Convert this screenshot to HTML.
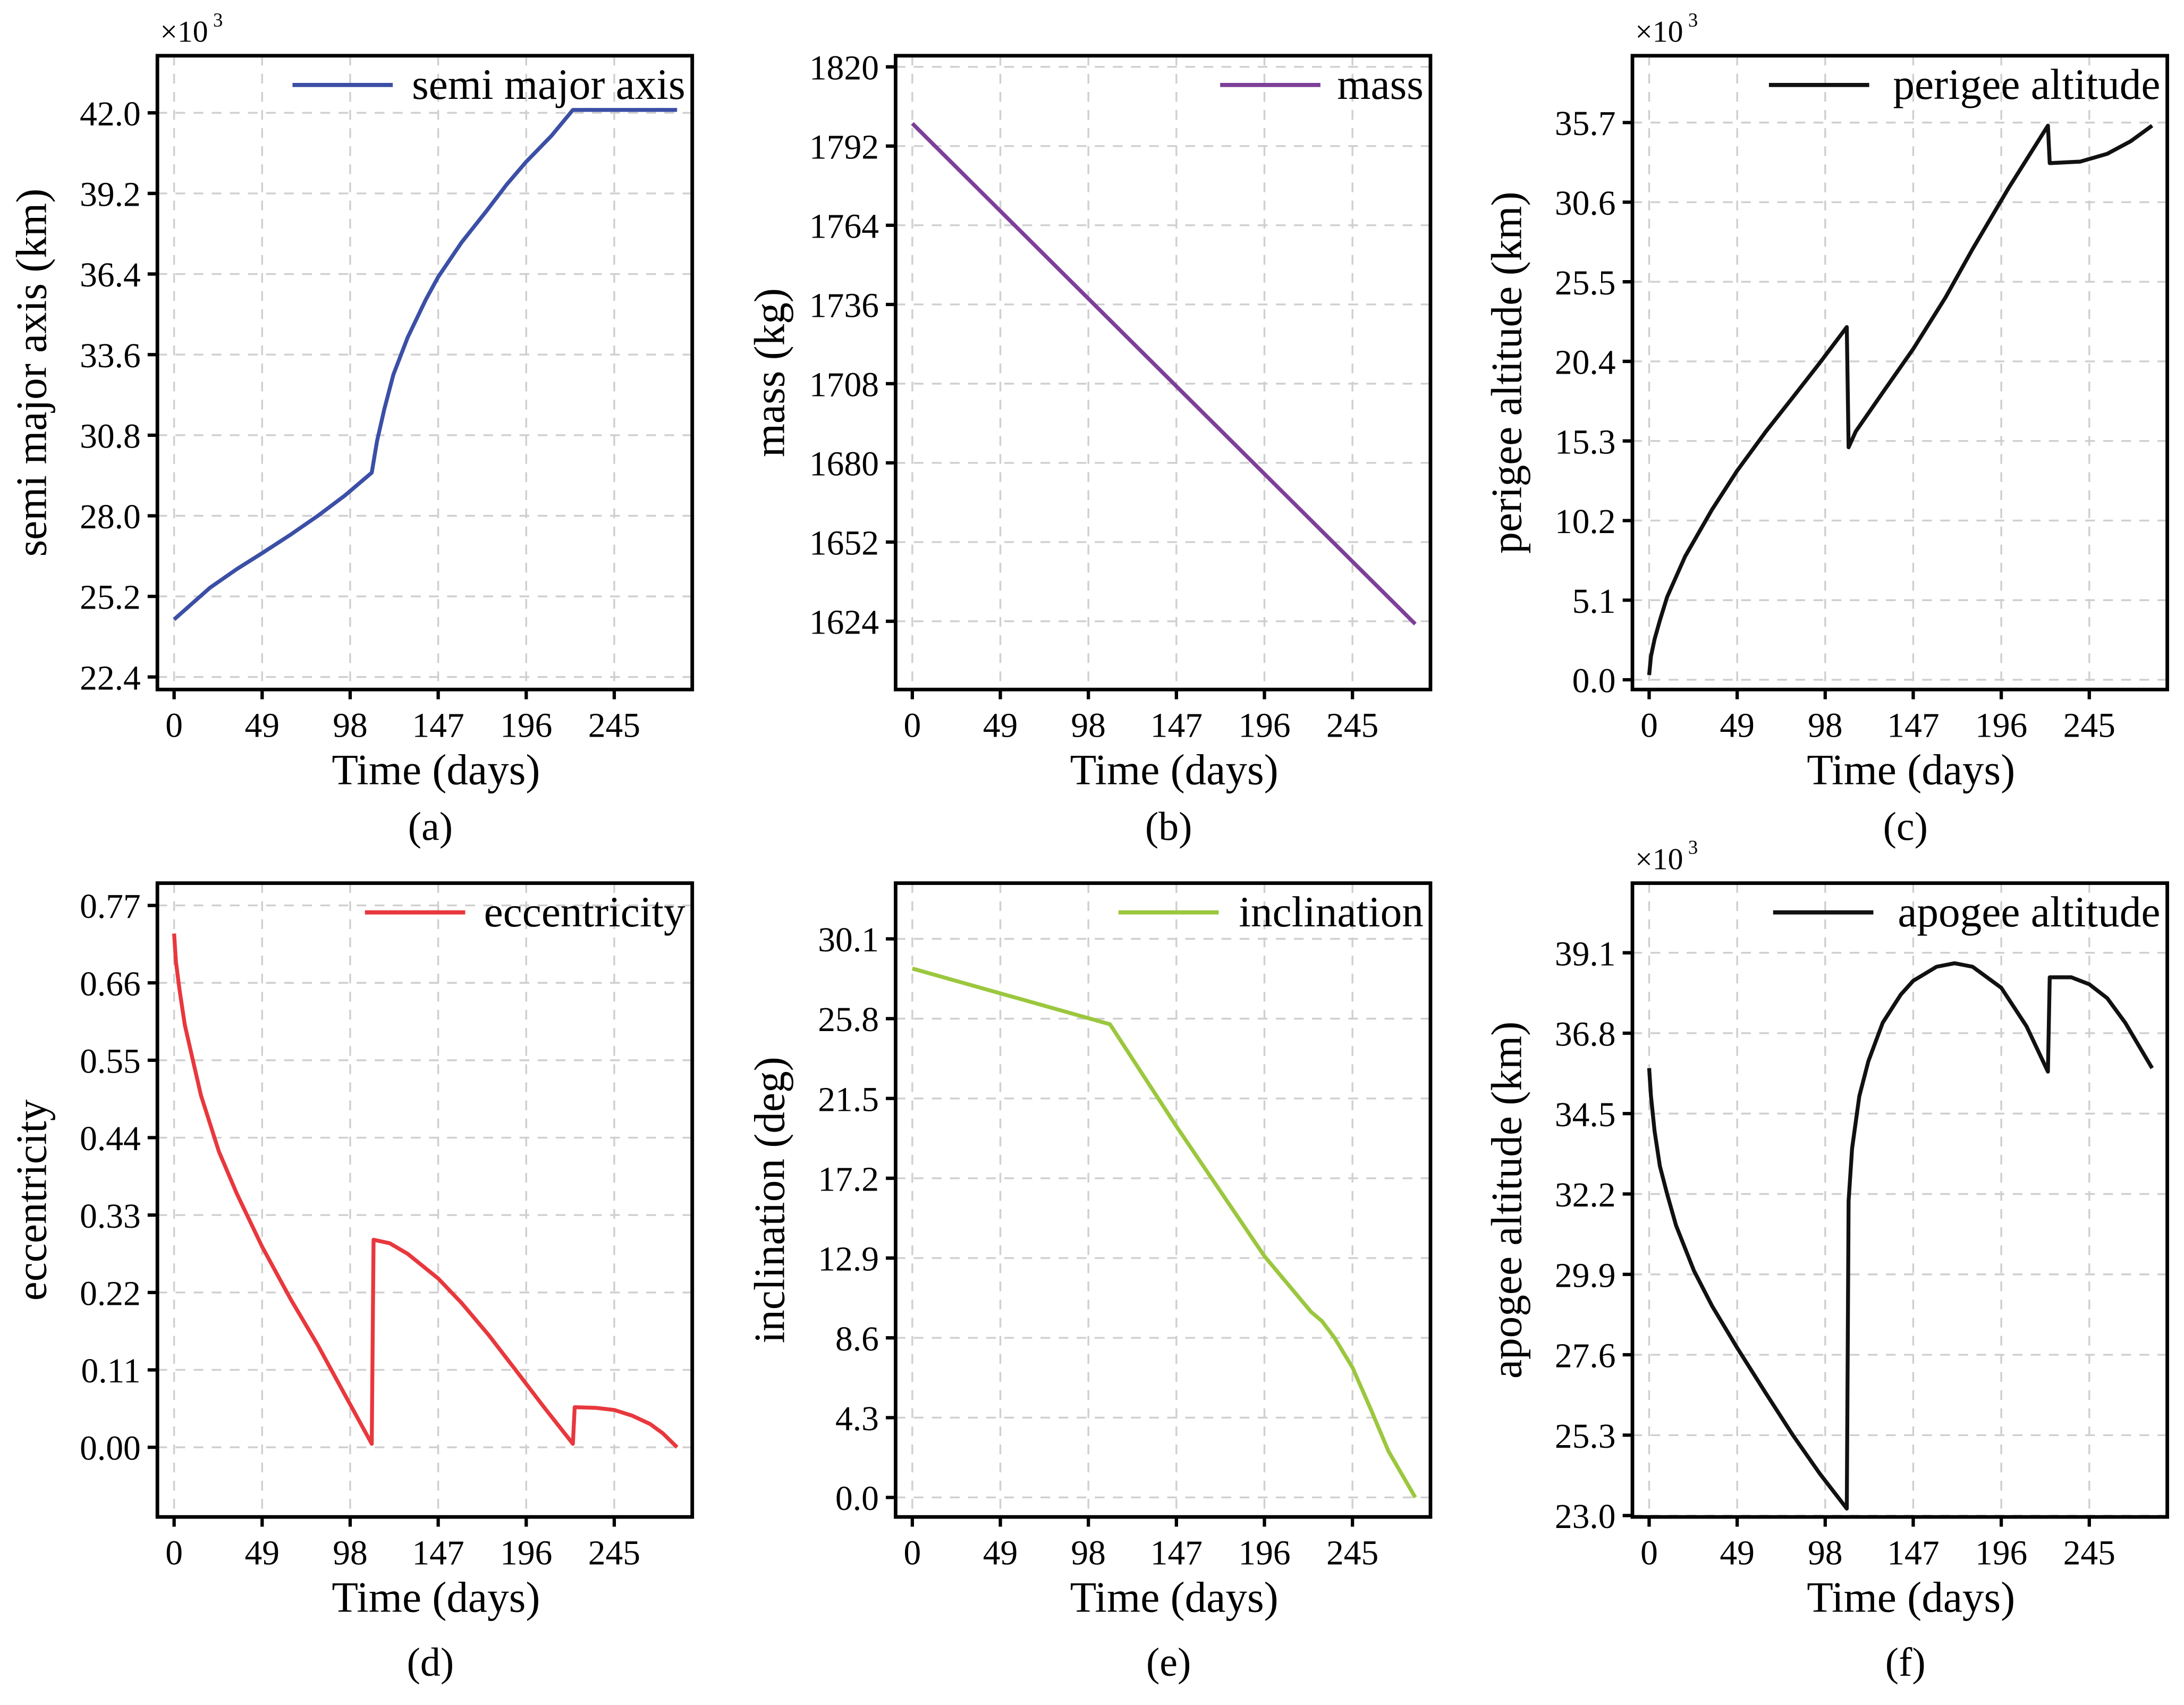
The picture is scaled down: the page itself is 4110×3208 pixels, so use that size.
<!DOCTYPE html>
<html><head><meta charset="utf-8"><style>
html,body{margin:0;padding:0;background:#fff;}
svg{display:block;font-family:"Liberation Serif",serif;}
</style></head><body>
<svg id="fig" xmlns="http://www.w3.org/2000/svg" width="4110" height="3208" viewBox="0 0 1568 1224" preserveAspectRatio="none"></svg>
<script>
// ---- data ----
const tA=[0,10,20,35,49,65,80,95,110,113,117,122,130,140,147,160,174,185,196,210,222,280];
const vA=[24.4,24.95,25.5,26.15,26.7,27.35,28.0,28.7,29.5,30.6,31.7,32.9,34.2,35.5,36.3,37.5,38.6,39.5,40.3,41.2,42.1,42.1];
const tB=[0,280];
const vB=[1800,1623];
const tC=[0,1,3,6,10,20,35,49,65,80,95,110,111,115,130,147,165,180,200,222,223,240,255,268,280];
const vC=[0.3,1.5,2.6,3.8,5.3,7.9,10.9,13.4,15.9,18.1,20.3,22.6,14.9,15.9,18.4,21.2,24.5,27.6,31.5,35.5,33.1,33.2,33.7,34.5,35.5];
const tD=[0,1,3,6,10,15,25,35,49,65,80,95,110,111,120,130,147,160,175,190,205,222,223,235,245,255,265,272,280];
const vD=[0.73,0.69,0.65,0.60,0.555,0.50,0.42,0.36,0.285,0.21,0.145,0.075,0.005,0.295,0.29,0.275,0.24,0.205,0.16,0.11,0.06,0.005,0.057,0.056,0.053,0.045,0.033,0.02,0.0];
const tE=[0,110,147,196,222,228,235,245,255,265,280];
const vE=[28.5,25.5,20.0,13.0,10.0,9.5,8.6,7.0,4.8,2.5,0.0];
const tF=[0,1,3,6,10,15,25,35,49,65,80,95,110,111,113,117,122,130,140,147,160,170,180,196,210,222,223,235,245,255,265,280];
const vF=[35.8,35.0,34.0,33.0,32.2,31.3,30.0,29.0,27.8,26.5,25.3,24.2,23.2,32.0,33.5,35.0,36.0,37.1,37.9,38.3,38.7,38.8,38.7,38.1,37.0,35.7,38.4,38.4,38.2,37.8,37.1,35.8];
const xTicks=[0,49,98,147,196,245];
const ticksA=[22.4,25.2,28.0,30.8,33.6,36.4,39.2,42.0];
const ticksB=[1624,1652,1680,1708,1736,1764,1792,1820];
const ticksC=[0.0,5.1,10.2,15.3,20.4,25.5,30.6,35.7];
const ticksD=[0.00,0.11,0.22,0.33,0.44,0.55,0.66,0.77];
const ticksE=[0.0,4.3,8.6,12.9,17.2,21.5,25.8,30.1];
const ticksF=[23.0,25.3,27.6,29.9,32.2,34.5,36.8,39.1];

const NS="http://www.w3.org/2000/svg";
const svg=document.getElementById('fig');
function el(tag,attrs,parent,text){const e=document.createElementNS(NS,tag);for(const k in attrs)e.setAttribute(k,attrs[k]);if(text!==undefined)e.textContent=text;(parent||svg).appendChild(e);return e;}

const panels=[
 {id:'a',L:113,T:40,yt:ticksA,p0:486,p1:81,dec:1,exp:true,ttl:'semi major axis (km)',leg:'semi major axis',col:'#3b4fa6',t:tA,v:vA,lab:'(a)',legX:210,lo:0},
 {id:'b',L:643,T:40,yt:ticksB,p0:446,p1:48,dec:0,exp:false,ttl:'mass (kg)',leg:'mass',col:'#7d3f98',t:tB,v:vB,lab:'(b)',legX:876,lo:0},
 {id:'c',L:1172,T:40,yt:ticksC,p0:488,p1:88,dec:1,exp:true,ttl:'perigee altitude (km)',leg:'perigee altitude',col:'#111',t:tC,v:vC,lab:'(c)',legX:1270,lo:0},
 {id:'d',L:113,T:634,yt:ticksD,p0:1039,p1:650,dec:2,exp:false,ttl:'eccentricity',leg:'eccentricity',col:'#e8383d',t:tD,v:vD,lab:'(d)',legX:262,lo:6},
 {id:'e',L:643,T:634,yt:ticksE,p0:1075,p1:674,dec:1,exp:false,ttl:'inclination (deg)',leg:'inclination',col:'#9bc73e',t:tE,v:vE,lab:'(e)',legX:803,lo:6},
 {id:'f',L:1172,T:634,yt:ticksF,p0:1088,p1:684,dec:1,exp:true,ttl:'apogee altitude (km)',leg:'apogee altitude',col:'#111',t:tF,v:vF,lab:'(f)',legX:1273,lo:6},
];
const W=384,H=455;
panels.forEach(P=>{
 const g=el('g',{});
 
 
 const x=t=>P.L+12+t*(316/245);
 const yA=P.yt[0],yB=P.yt[P.yt.length-1];
 const y=v=>P.p0+(v-yA)*(P.p1-P.p0)/(yB-yA);
 const B=P.T+H;
 xTicks.forEach(t=>{const l=el('line',{x1:x(t),x2:x(t),y1:P.T,y2:B,stroke:'#cfcfcf','stroke-width':1.3,'stroke-dasharray':'7,6'},g);});
 P.yt.forEach(v=>{const l=el('line',{x1:P.L,x2:P.L+W,y1:y(v),y2:y(v),stroke:'#cfcfcf','stroke-width':1.3,'stroke-dasharray':'7,6'},g);});
 const d=P.t.map((t,i)=>(i?'L':'M')+x(t).toFixed(1)+','+y(P.v[i]).toFixed(1)).join(' ');
 const s=el('path',{d:d,fill:'none',stroke:P.col,'stroke-width':2.8,'stroke-linejoin':'round'},g);
 
 
 const f=el('rect',{x:P.L,y:P.T,width:W,height:H,fill:'none',stroke:'#000','stroke-width':2.6},g);
 
 
 xTicks.forEach(t=>{
  el('line',{x1:x(t),x2:x(t),y1:B,y2:B+7,stroke:'#000','stroke-width':2.4},g);
  const tx=el('text',{x:x(t),y:B+34,'font-size':25,'text-anchor':'middle'},g,String(t));
  
  
 });
 P.yt.forEach(v=>{
  el('line',{x1:P.L-7,x2:P.L,y1:y(v),y2:y(v),stroke:'#000','stroke-width':2.4},g);
  const tx=el('text',{x:P.L-12,y:y(v)+9,'font-size':25,'text-anchor':'end'},g,v.toFixed(P.dec));
  
  
 });
 const xt=el('text',{x:P.L+200,y:B+68,'font-size':31,'text-anchor':'middle'},g,'Time (days)');
 
 
 const yt=el('text',{x:0,y:0,'font-size':31,'text-anchor':'middle',transform:`translate(${P.L-80},${P.T+H/2}) rotate(-90)`},g,P.ttl);
 
 
 const lb=el('text',{x:P.L+196,y:B+108+P.lo,'font-size':29,'text-anchor':'middle'},g,P.lab);
 
 
 if(P.exp){
  const e=el('text',{x:P.L+2,y:P.T-10,'font-size':22},g,'×10');
  
  
  el('text',{x:P.L+40,y:P.T-21,'font-size':14},g,'3');
 }
 const lg=el('g',{},g);
 
 
 el('line',{x1:P.legX,x2:P.legX+72,y1:P.T+21,y2:P.T+21,stroke:P.col,'stroke-width':3},lg);
 el('text',{x:P.L+W-5,y:P.T+31,'font-size':31,'text-anchor':'end'},lg,P.leg);
});
</script>
</body></html>
